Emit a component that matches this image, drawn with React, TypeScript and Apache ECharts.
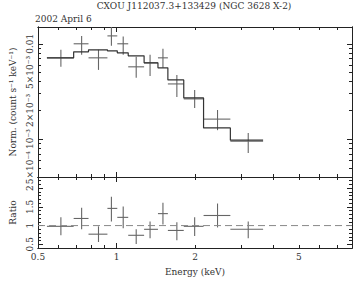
import React, { useEffect, useRef } from "react";
import * as echarts from "echarts";

// ---- data ----
const binLo = [0.541, 0.685, 0.781, 0.923, 1.007, 1.109, 1.276, 1.442, 1.574, 1.811, 2.157, 2.733];
const binHi = [0.685, 0.781, 0.923, 1.007, 1.109, 1.276, 1.442, 1.574, 1.811, 2.157, 2.733, 3.649];
const binMid = [0.612, 0.735, 0.853, 0.956, 1.061, 1.19, 1.345, 1.507, 1.704, 1.994, 2.44, 3.2];

const flux = [7.12e-3, 1.0e-2, 7.12e-3, 1.21e-2, 1.0e-2, 5.73e-3, 6.31e-3, 7.12e-3, 3.79e-3, 2.64e-3, 1.62e-3, 9.5e-4];
const fluxLo = [5.73e-3, 7.66e-3, 5.32e-3, 9.53e-3, 7.66e-3, 4.39e-3, 4.6e-3, 5.59e-3, 2.77e-3, 2.12e-3, 1.24e-3, 7.14e-4];
const fluxHi = [8.65e-3, 1.21e-2, 8.65e-3, 1.51e-2, 1.19e-2, 7.3e-3, 7.66e-3, 8.86e-3, 4.71e-3, 3.28e-3, 2.02e-3, 1.16e-3];

const model = [7.12e-3, 8.24e-3, 8.65e-3, 8.44e-3, 8.04e-3, 7.47e-3, 6.31e-3, 5.59e-3, 4.18e-3, 2.7e-3, 1.31e-3, 9.74e-4];

const ratio = [0.98, 1.19, 0.77, 1.46, 1.22, 0.74, 0.9, 1.32, 0.87, 0.98, 1.27, 0.9];
const ratioLo = [0.74, 0.9, 0.56, 1.11, 0.93, 0.51, 0.66, 1.03, 0.61, 0.72, 0.95, 0.66];
const ratioHi = [1.22, 1.48, 0.98, 1.77, 1.51, 0.9, 1.11, 1.61, 1.09, 1.22, 1.59, 1.11];

// ---- axes ----
const xMin = 0.5;
const xMax = 8;
const xMajorTicks = [1];
const xMinorTicks = [0.6, 0.7, 0.8, 0.9, 2, 3, 4, 5, 6, 7, 8];
const xTickValues = [0.5, 1, 2, 5];
const xTickLabels = ["0.5", "1", "2", "5"];

const yMin = 4e-4;
const yMax = 0.015;
const yMajorTicks = [1e-3, 1e-2];
const yMinorTicks = [4e-4, 5e-4, 6e-4, 7e-4, 8e-4, 9e-4, 2e-3, 3e-3, 4e-3, 5e-3, 6e-3, 7e-3, 8e-3, 9e-3];
const yTickValues = [5e-4, 1e-3, 2e-3, 5e-3, 1e-2];
const yTickLabels = ["5×10⁻⁴", "10⁻³", "2×10⁻³", "5×10⁻³", "0.01"];

const rMin = 0.4;
const rMax = 2.3;
const rMajorTicks = [0.5, 1, 1.5, 2];
const rMinorTicks = [0.4, 0.6, 0.7, 0.8, 0.9, 1.1, 1.2, 1.3, 1.4, 1.6, 1.7, 1.8, 1.9, 2.1, 2.2];
const rTickLabels = ["0.5", "1", "1.5", "2"];
const unity = 1;

const titleText = "CXOU J112037.3+133429 (NGC 3628 X-2)";
const dateText = "2002 April 6";
const xName = "Energy (keV)";
const yNameTop = "Norm. (count s⁻¹ keV⁻¹)";
const yNameBottom = "Ratio";

const L = (v: number) => Math.log10(v);
const FONT = "DejaVu Serif";
const INK = "#222";
const TXT = "#333";

function labelFor(vals: number[], labels: string[], v: number, log: boolean) {
  for (let i = 0; i < vals.length; i++) {
    const t = log ? L(vals[i]) : vals[i];
    if (Math.abs(t - v) < 1e-6) return labels[i];
  }
  return "";
}

function crossRender(color: string) {
  return (params: any, api: any) => {
    const xl = api.value(0), xh = api.value(1), xm = api.value(2);
    const y = api.value(3), yl = api.value(4), yh = api.value(5);
    const a = api.coord([xl, y]);
    const b = api.coord([xh, y]);
    const c = api.coord([xm, yl]);
    const d = api.coord([xm, yh]);
    const style = { stroke: color, lineWidth: 1.1 };
    return {
      type: "group",
      children: [
        { type: "line", shape: { x1: a[0], y1: a[1], x2: b[0], y2: b[1] }, style },
        { type: "line", shape: { x1: c[0], y1: c[1], x2: d[0], y2: d[1] }, style },
      ],
    };
  };
}

export default function App() {
  const ref = useRef<HTMLDivElement>(null);
  useEffect(() => {
    if (!ref.current) return;
    const chart = echarts.init(ref.current, null, { renderer: "svg" });

    const grids = [
      { left: 36, top: 27, width: 316, height: 150 },
      { left: 36, top: 177, width: 316, height: 71 },
    ];

    const xAxes: any[] = [];
    [0, 1].forEach((g) => {
      (["bottom", "top"] as const).forEach((pos) => {
        [true, false].forEach((major) => {
          const showLabel = g === 1 && pos === "bottom" && major;
          xAxes.push({
            type: "value",
            gridIndex: g,
            position: pos,
            min: L(xMin),
            max: L(xMax),
            axisLine: { show: true, onZero: false, lineStyle: { color: INK, width: 1 } },
            splitLine: { show: false },
            axisTick: {
              show: true,
              inside: true,
              length: major ? 5 : 3,
              customValues: (major ? xMajorTicks : xMinorTicks).map(L),
              lineStyle: { color: INK, width: 1 },
            },
            axisLabel: {
              show: showLabel,
              customValues: xTickValues.map(L),
              formatter: (v: number) => labelFor(xTickValues, xTickLabels, v, true),
              fontFamily: FONT,
              fontSize: 9,
              color: TXT,
              margin: 4,
            },
            name: showLabel ? xName : "",
            nameLocation: "middle",
            nameGap: 19,
            nameTextStyle: { fontFamily: FONT, fontSize: 9, color: TXT },
          });
        });
      });
    });

    const yAxes: any[] = [];
    [0, 1].forEach((g) => {
      (["left", "right"] as const).forEach((pos) => {
        [true, false].forEach((major) => {
          const showLabel = pos === "left" && major;
          const isTop = g === 0;
          yAxes.push({
            type: "value",
            gridIndex: g,
            position: pos,
            min: isTop ? L(yMin) : rMin,
            max: isTop ? L(yMax) : rMax,
            axisLine: { show: true, onZero: false, lineStyle: { color: INK, width: 1 } },
            splitLine: { show: false },
            axisTick: {
              show: true,
              inside: true,
              length: major ? 5 : 3,
              customValues: isTop
                ? (major ? yMajorTicks : yMinorTicks).map(L)
                : major
                ? rMajorTicks
                : rMinorTicks,
              lineStyle: { color: INK, width: 1 },
            },
            axisLabel: {
              show: showLabel,
              rotate: 90,
              customValues: isTop ? yTickValues.map(L) : rMajorTicks,
              formatter: (v: number) =>
                isTop ? labelFor(yTickValues, yTickLabels, v, true) : labelFor(rMajorTicks, rTickLabels, v, false),
              fontFamily: FONT,
              fontSize: 9,
              color: TXT,
              margin: 4,
            },
            name: showLabel ? (isTop ? yNameTop : yNameBottom) : "",
            nameLocation: "middle",
            nameRotate: 90,
            nameGap: 21,
            nameTextStyle: { fontFamily: FONT, fontSize: 9, color: TXT },
          });
        });
      });
    });

    const specData = binMid.map((m, i) => [L(binLo[i]), L(binHi[i]), L(m), L(flux[i]), L(fluxLo[i]), L(fluxHi[i])]);
    const ratioData = binMid.map((m, i) => [L(binLo[i]), L(binHi[i]), L(m), ratio[i], ratioLo[i], ratioHi[i]]);
    const modelData: number[][] = [];
    model.forEach((v, i) => {
      modelData.push([L(binLo[i]), L(v)]);
      modelData.push([L(binHi[i]), L(v)]);
    });

    chart.setOption({
      animation: false,
      backgroundColor: "#ffffff",
      grid: grids,
      xAxis: xAxes,
      yAxis: yAxes,
      graphic: [
        {
          type: "text",
          x: 194,
          y: 6,
          style: { text: titleText, textAlign: "center", textVerticalAlign: "middle", fontFamily: FONT, fontSize: 9, fill: TXT },
        },
        {
          type: "text",
          x: 35,
          y: 19,
          style: { text: dateText, textAlign: "left", textVerticalAlign: "middle", fontFamily: FONT, fontSize: 9, fill: TXT },
        },
      ],
      series: [
        {
          type: "line",
          xAxisIndex: 0,
          yAxisIndex: 0,
          data: modelData,
          symbol: "none",
          lineStyle: { color: "#333", width: 1.2 },
          silent: true,
        },
        {
          type: "custom",
          xAxisIndex: 0,
          yAxisIndex: 0,
          data: specData,
          clip: true,
          renderItem: crossRender("#666"),
        },
        {
          type: "line",
          xAxisIndex: 4,
          yAxisIndex: 4,
          data: [
            [L(xMin), unity],
            [L(xMax), unity],
          ],
          symbol: "none",
          lineStyle: { color: "#888", width: 1, type: [7, 4] },
          silent: true,
        },
        {
          type: "custom",
          xAxisIndex: 4,
          yAxisIndex: 4,
          data: ratioData,
          clip: true,
          renderItem: crossRender("#666"),
        },
      ],
    });
    return () => chart.dispose();
  }, []);
  return <div ref={ref} style={{ position: "fixed", left: 0, top: 0, width: 354, height: 281, background: "#fff" }} />;
}
